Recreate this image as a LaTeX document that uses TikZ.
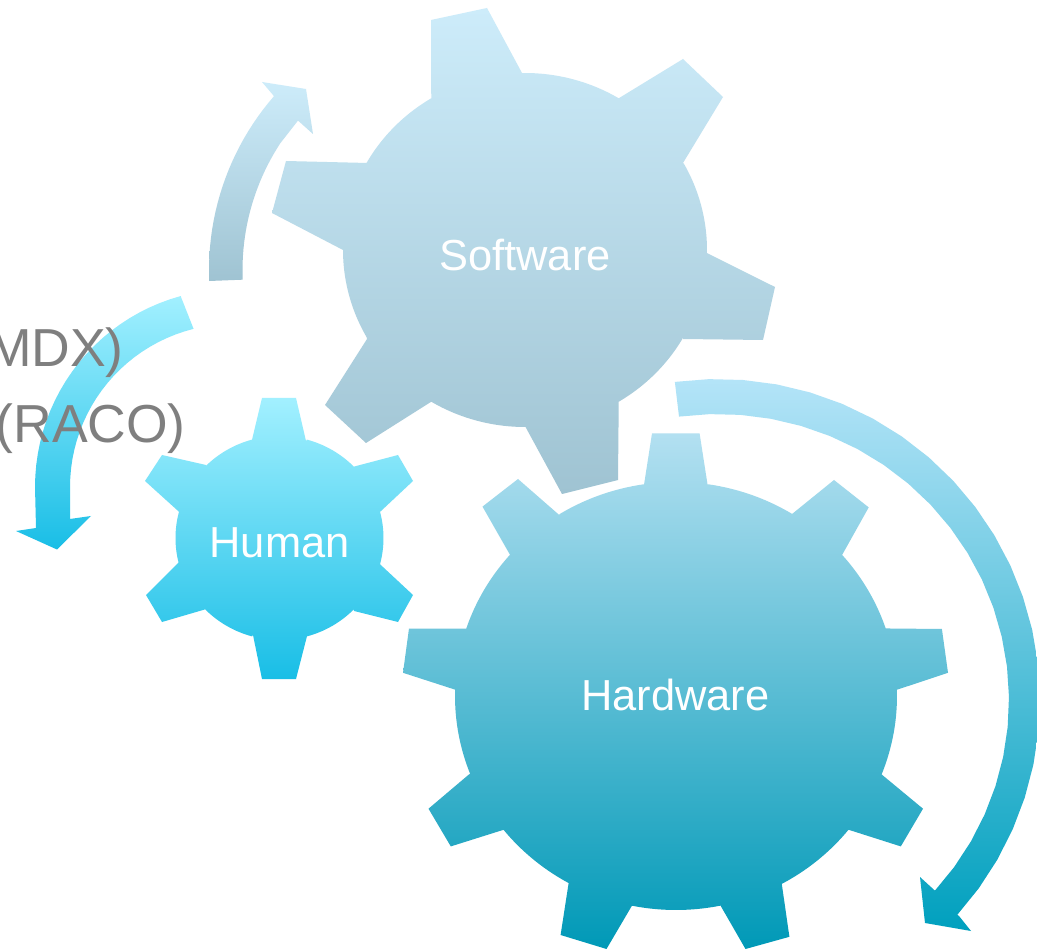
\documentclass[tikz,border=0pt]{standalone}
\usepackage{fontspec}
\setmainfont{Liberation Sans}
\definecolor{swtop}{HTML}{CDECFA}
\definecolor{swbot}{HTML}{9FC3D2}
\definecolor{hutop}{HTML}{A2F0FF}
\definecolor{hubot}{HTML}{19BEE6}
\definecolor{hwtop}{HTML}{B3E0F1}
\definecolor{hwbot}{HTML}{0099B7}
\definecolor{atop}{HTML}{B4E4F8}
\definecolor{abot}{HTML}{00A0BE}
\definecolor{txtgrey}{HTML}{7F7F7F}
\def\earc#1#2#3#4#5#6{-- plot[domain=#5:#6,samples=24] ({#1+#3*cos(\x)},{#2-#4*sin(\x)})}
\tikzset{
  softshape/.style={top color=swtop,bottom color=swbot},
  humanshape/.style={top color=hutop,bottom color=hubot},
  hardshape/.style={top color=hwtop,bottom color=hwbot},
  sweep/.style={top color=atop,bottom color=abot},
  gearlabel/.style={text=white,anchor=base,inner sep=0pt,font=\fontsize{43.4}{50}\selectfont},
  sidelabel/.style={text=txtgrey,anchor=base east,inner sep=0pt,font=\fontsize{53.5}{60}\selectfont},
}
\begin{document}
\begin{tikzpicture}[x=1pt,y=-1pt]
\useasboundingbox (0,0) rectangle (1037,949);
\clip (0,0) rectangle (1037,949);
\fill[white] (0,0) rectangle (1037,949);
% Software gear
\shade[softshape] (431,20) -- (487,8) -- (522,73)
  \earc{525}{250}{182}{177}{91}{59} -- (683,59) -- (723,97) -- (683,163)
  \earc{525}{250}{182}{177}{29}{-1} -- (775,287) -- (763,340) -- (683,339)
  \earc{525}{250}{182}{177}{-29.5}{-59} -- (618,480) -- (562,494) -- (525,426)
  \earc{525}{250}{182}{177}{-90}{-121} -- (366,443) -- (325,405) -- (367,339)
  \earc{525}{250}{182}{177}{209.5}{180} -- (272,213) -- (286,161) -- (368,163)
  \earc{525}{250}{182}{177}{151}{121} -- cycle;
% Arrow to Software
\shade[softshape] (209,281) \earc{474}{270}{265}{265}{182.4}{139}
  -- (262,82) -- (306,89) -- (313,134) -- (298,120.6)
  \earc{474}{270}{231.5}{231.5}{146.8}{182.4} -- cycle;
% Arrow from Human
\shade[humanshape] (181,297) \earc{233}{487}{163}{163}{104}{180}
  -- (70,519) -- (91,516) -- (57,549.5) -- (16,531) -- (36,528)
  \earc{233}{487}{198}{198}{180}{105.3} -- cycle;
% Arrow round Hardware
\shade[sweep] (675,383) \earc{718}{700}{291}{286}{97.7}{-41.8}
  -- (920,877) -- (925,923) -- (971,931) -- (959,916)
  \earc{718}{700}{322}{321}{-42}{97.7} -- cycle;
% Hardware gear
\shade[hardshape] (652,433.5) -- (699.6,433.5) -- (707.7,485.6)
  \earc{676}{696}{221}{214}{81.7}{58.3} -- (834,480) -- (868.7,507.4) -- (842.3,554.6)
  \earc{676}{696}{221}{214}{41.3}{18.4} -- (941.9,629) -- (948,672.8) -- (898,689.4)
  \earc{676}{696}{221}{214}{1.7}{-21.5} -- (923,808.7) -- (900.8,846.4) -- (848.4,829.7)
  \earc{676}{696}{221}{214}{-38.7}{-61.4} -- (789.4,936.8) -- (745.5,949) -- (720,904.7)
  \earc{676}{696}{221}{214}{-78.5}{-101.5} -- (606.5,949) -- (560.6,935) -- (568.7,882.6)
  \earc{676}{696}{221}{214}{-119.1}{-141.3} -- (450.8,846.4) -- (428.5,808.7) -- (469,774.4)
  \earc{676}{696}{221}{214}{-158.7}{-181.7} -- (403,672.8) -- (409,628.5) -- (467,628.5)
  \earc{676}{696}{221}{214}{161.6}{138.7} -- (482.5,506.6) -- (518,479) -- (559,514.8)
  \earc{676}{696}{221}{214}{121.7}{98.3} -- cycle;
% Human gear
\shade[humanshape] (262,398) -- (296,398) -- (306,441)
  \earc{279.5}{538}{104}{102}{74.7}{44.4} -- (398,455) -- (413,481) -- (381,511)
  \earc{279.5}{538}{104}{102}{14.9}{-14.9} -- (413,595) -- (398,622) -- (354,611)
  \earc{279.5}{538}{104}{102}{-44.4}{-74.7} -- (296,679) -- (262,679) -- (253,635)
  \earc{279.5}{538}{104}{102}{-105.3}{-135.6} -- (162,622) -- (146,595) -- (179,562)
  \earc{279.5}{538}{104}{102}{-165.1}{-194.9} -- (145,481) -- (162,455) -- (206,465)
  \earc{279.5}{538}{104}{102}{135.6}{105.3} -- cycle;
% Labels
\node[gearlabel] (software) at (525,271) {Software};
\node[gearlabel] (hardware) at (675.5,710) {Hardware};
\node[gearlabel] (human) at (279.5,558) {Human};
\node[sidelabel] (mdx) at (124,367) {MDX)};
\node[sidelabel] (raco) at (186,443) {(RACO)};
\end{tikzpicture}
\end{document}
